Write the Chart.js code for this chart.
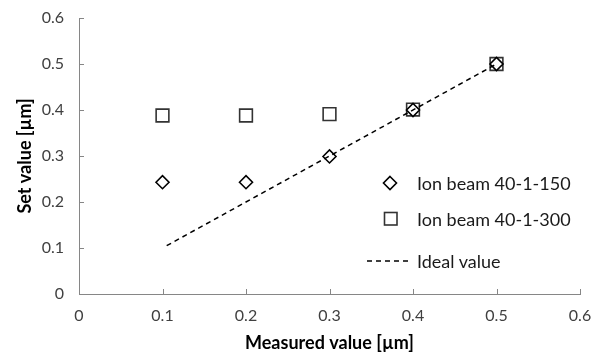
<!DOCTYPE html>
<html>
<head>
<meta charset="utf-8">
<script src="https://cdn.jsdelivr.net/npm/chart.js@4/dist/chart.umd.min.js"></script>
<style>
  html, body { margin: 0; padding: 0; background: #fff; }
  #wrap { position: relative; width: 605px; height: 356px; }
  #legend { position: absolute; left: 0; top: 0; width: 605px; height: 356px; pointer-events: none;
            font-family: Lato, "Open Sans", sans-serif; font-size: 18px; color: #1a1a1a; }
  .item { position: absolute; display: flex; align-items: center; height: 20px; }
  .item svg { display: block; }
  .item span { position: absolute; white-space: nowrap; line-height: 20px; top: 0; }
</style>
</head>
<body>
<div id="wrap">
  <canvas id="c" width="605" height="356"></canvas>
  <div id="legend"></div>
</div>
<script>
// ---- data ----
const measured = [0.1, 0.2, 0.3, 0.4, 0.5];
const setIon150 = [0.243, 0.243, 0.299, 0.400, 0.500];
const setIon300 = [0.388, 0.388, 0.391, 0.401, 0.500];
const idealX = [0.105, 0.5];
const idealY = [0.105, 0.5];
const seriesNames = ["Ion beam 40-1-150", "Ion beam 40-1-300", "Ideal value"];
const xTicks = [0, 0.1, 0.2, 0.3, 0.4, 0.5, 0.6];
const yTicks = [0, 0.1, 0.2, 0.3, 0.4, 0.5, 0.6];
const xTitle = "Measured value [µm]";
const yTitle = "Set value [µm]";

const FONT = 'Lato, "Open Sans", sans-serif';
const axisColor = '#868686';
const tickColor = '#404040';

const toPts = (xs, ys) => xs.map((x, i) => ({ x: x, y: ys[i] }));

// draw tick marks pointing inward
const innerTicks = {
  id: 'innerTicks',
  afterDraw(chart) {
    const ctx = chart.ctx, xs = chart.scales.x, ys = chart.scales.y;
    const ca = chart.chartArea;
    ctx.save();
    ctx.strokeStyle = axisColor;
    ctx.lineWidth = 1;
    ctx.beginPath();
    xTicks.forEach(v => {
      if (v === 0) return;
      const px = Math.round(xs.getPixelForValue(v)) + 0.5;
      ctx.moveTo(px, ca.bottom); ctx.lineTo(px, ca.bottom - 5);
    });
    yTicks.forEach(v => {
      if (v === 0) return;
      const py = Math.round(ys.getPixelForValue(v)) + 0.5;
      ctx.moveTo(ca.left, py); ctx.lineTo(ca.left + 5, py);
    });
    ctx.stroke();
    ctx.restore();
  }
};

const chart = new Chart(document.getElementById('c'), {
  type: 'scatter',
  data: {
    datasets: [
      {
        label: seriesNames[2],
        type: 'line',
        data: toPts(idealX, idealY),
        borderColor: '#000',
        borderWidth: 1.5,
        borderDash: [5, 4],
        pointRadius: 0,
        fill: false,
        order: 0
      },
      {
        label: seriesNames[0],
        data: toPts(measured, setIon150),
        pointStyle: 'rectRot',
        pointRadius: 6.5,
        pointBorderWidth: 1.6,
        borderColor: '#000',
        backgroundColor: '#fff',
        order: 1
      },
      {
        label: seriesNames[1],
        data: toPts(measured, setIon300),
        pointStyle: 'rect',
        pointRadius: 9,
        pointBorderWidth: 1.6,
        borderColor: '#333',
        backgroundColor: '#fff',
        order: 2
      }
    ]
  },
  options: {
    responsive: false,
    animation: false,
    events: [],
    layout: { padding: { left: 0, top: 18, right: 25, bottom: 0 } },
    plugins: { legend: { display: false }, tooltip: { enabled: false } },
    scales: {
      x: {
        type: 'linear', min: 0, max: 0.6,
        afterBuildTicks: s => { s.ticks = xTicks.map(v => ({ value: v })); },
        afterFit: s => { s.height = 62; s.paddingLeft = 0; s.paddingRight = 0; },
        grid: { display: true, drawOnChartArea: false, drawTicks: false, tickLength: 0 },
        border: { display: true, color: axisColor, width: 1 },
        ticks: {
          color: tickColor, padding: 12,
          font: { family: FONT, size: 16 },
          callback: v => String(Math.round(v * 10) / 10)
        },
        title: {
          display: true, text: xTitle, color: '#000',
          font: { family: FONT, size: 18, weight: 'bold' },
          padding: { top: 0, bottom: 2 }
        }
      },
      y: {
        type: 'linear', min: 0, max: 0.6,
        afterBuildTicks: s => { s.ticks = yTicks.map(v => ({ value: v })); },
        afterFit: s => { s.width = 79; s.paddingTop = 0; s.paddingBottom = 0; },
        grid: { display: true, drawOnChartArea: false, drawTicks: false, tickLength: 0 },
        border: { display: true, color: axisColor, width: 1 },
        ticks: {
          color: tickColor, padding: 15,
          font: { family: FONT, size: 16 },
          callback: v => String(Math.round(v * 10) / 10)
        },
        title: {
          display: true, text: yTitle, color: '#000',
          font: { family: FONT, size: 18, weight: 'bold' },
          padding: { top: 14, bottom: 0 }
        }
      }
    }
  },
  plugins: [innerTicks]
});

// ---- HTML legend inside the plot ----
const legend = document.getElementById('legend');
const items = [
  { name: seriesNames[0], cx: 390, cy: 183,
    svg: '<svg width="16" height="16" viewBox="0 0 16 16"><polygon points="8,1.5 14.5,8 8,14.5 1.5,8" fill="#fff" stroke="#000" stroke-width="1.6"/></svg>', w: 16 },
  { name: seriesNames[1], cx: 391, cy: 219,
    svg: '<svg width="16" height="16" viewBox="0 0 16 16"><rect x="1.5" y="1.5" width="12.5" height="12.5" fill="#fff" stroke="#333" stroke-width="1.6"/></svg>', w: 16 },
  { name: seriesNames[2], cx: 388, cy: 261,
    svg: '<svg width="42" height="6" viewBox="0 0 42 6"><line x1="0" y1="3" x2="42" y2="3" stroke="#000" stroke-width="1.5" stroke-dasharray="5,4"/></svg>', w: 42 }
];
items.forEach(it => {
  const d = document.createElement('div');
  d.className = 'item';
  d.style.left = (it.cx - it.w / 2) + 'px';
  d.style.top = (it.cy - 10) + 'px';
  d.innerHTML = it.svg;
  const sp = document.createElement('span');
  sp.textContent = it.name;
  sp.style.left = (417 - (it.cx - it.w / 2)) + 'px';
  d.appendChild(sp);
  legend.appendChild(d);
});
</script>
</body>
</html>
